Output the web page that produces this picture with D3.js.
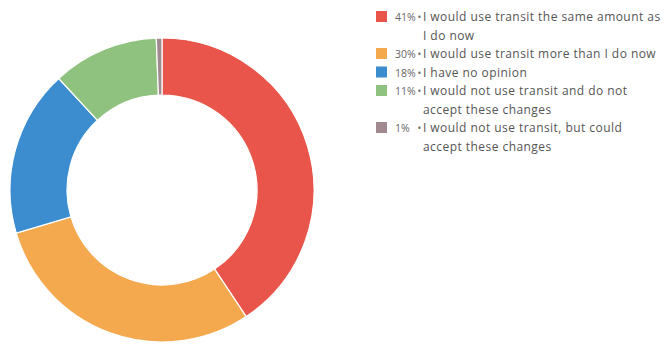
<!DOCTYPE html>
<html><head><meta charset="utf-8">
<script src="https://cdn.jsdelivr.net/npm/d3@7/dist/d3.min.js"></script>
<style>
html,body{margin:0;padding:0;background:#fff;}
svg{display:block;}
text{font-family:"Open Sans",sans-serif;}
</style></head>
<body>
<svg id="chart" width="665" height="345"></svg>
<script>
const categories = [
  "I would use transit the same amount as I do now",
  "I would use transit more than I do now",
  "I have no opinion",
  "I would not use transit and do not accept these changes",
  "I would not use transit, but could accept these changes"
];
const values = [40.7, 29.8, 17.7, 11.3, 0.6];
const percentLabels = ["41%", "30%", "18%", "11%", "1%"];
const colors = ["#e9554a", "#f4a94f", "#3b8dd0", "#8fc27e", "#a08a90"];

const svg = d3.select("#chart");
const cx = 162, cy = 190, rOuter = 152, rInner = 95;

const pie = d3.pie().sort(null).value(d => d)(values);
const arc = d3.arc().innerRadius(rInner).outerRadius(rOuter);

svg.append("g").attr("transform", `translate(${cx},${cy})`)
  .selectAll("path").data(pie).join("path")
  .attr("d", arc)
  .attr("fill", (d, i) => colors[i])
  .attr("stroke", "#fff")
  .attr("stroke-width", 1.2);

// legend
const lg = svg.append("g").attr("class", "legend");
const lineH = 18.5;
const fontSize = 12;
const maxW = 239;
let y = 21;
categories.forEach((cat, i) => {
  const g = lg.append("g");
  g.append("rect").attr("x", 376).attr("y", y - 10).attr("width", 11).attr("height", 11)
    .attr("fill", colors[i]);
  g.append("text").attr("x", 395).attr("y", y).attr("font-size", 10.5).attr("fill", "#666")
    .text(percentLabels[i]);
  g.append("text").attr("x", 417.5).attr("y", y).attr("font-size", 10).attr("fill", "#666")
    .text("\u2022");
  const words = cat.split(" ");
  let line = [];
  const mk = (yy) => g.append("text").attr("x", 423).attr("y", yy).attr("font-size", fontSize)
    .attr("letter-spacing", 0.45).attr("fill", "#555");
  let t = mk(y);
  let lines = 1;
  words.forEach(w => {
    line.push(w);
    t.text(line.join(" "));
    if (t.node().getComputedTextLength() > maxW && line.length > 1) {
      line.pop();
      t.text(line.join(" "));
      line = [w];
      t = mk(y + lines * lineH).text(w);
      lines++;
    }
  });
  y += lines * lineH;
});
</script>
</body></html>
